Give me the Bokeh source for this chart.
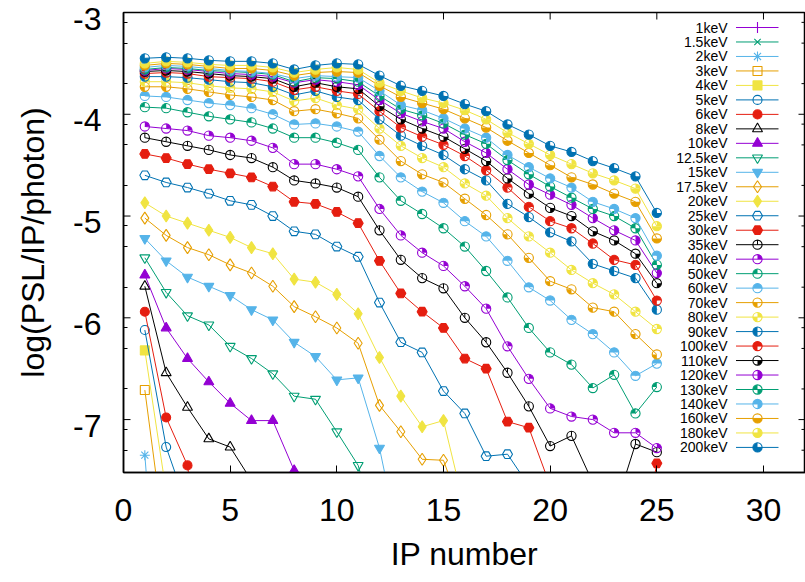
import math
from bokeh.plotting import figure
from bokeh.models import Range1d, FixedTicker, ColumnDataSource
from bokeh.core.properties import value
from bokeh.embed import file_html
from bokeh.resources import INLINE

FONT = "Liberation Sans"

# ---------------- data (log(PSL/IP/photon) per IP number) ----------------
ip_number = list(range(1, 26))

labels = ["1keV", "1.5keV", "2keV", "3keV", "4keV", "5keV", "6keV", "8keV",
          "10keV", "12.5keV", "15keV", "17.5keV", "20keV", "25keV", "30keV",
          "35keV", "40keV", "50keV", "60keV", "70keV", "80keV", "90keV",
          "100keV", "110keV", "120keV", "130keV", "140keV", "160keV",
          "180keV", "200keV"]

e1 = [-8.20, -8.90]
e1_5 = [-7.90, -8.60]
e2 = [-7.35, -10.0]
e3 = [-6.71, -8.30, -8.60]
e4 = [-6.32, -7.71, -8.10]
e5 = [-6.12, -7.27, -7.87, -8.20]
e6 = [-5.94, -6.98, -7.45, -9.00]
e8 = [-5.69, -6.54, -6.88, -7.19, -7.27, -7.60, -7.90]
e10 = [-5.58, -6.10, -6.40, -6.63, -6.84, -7.01, -7.01, -7.50, -8.00, -8.20]
e12_5 = [-5.41, -5.75, -5.98, -6.07, -6.28, -6.40, -6.55, -6.77, -6.80, -7.12,
         -7.45, -8.20, -8.40]
e15 = [-5.22, -5.44, -5.60, -5.69, -5.78, -5.92, -6.02, -6.24, -6.38, -6.61,
       -6.59, -7.28, -8.28, -8.40]
e17_5 = [-5.02, -5.19, -5.31, -5.38, -5.48, -5.56, -5.69, -5.89, -5.99, -6.10,
         -6.25, -6.86, -7.12, -7.39, -7.40, -7.98, -8.10]
e20 = [-4.87, -5.00, -5.07, -5.14, -5.21, -5.31, -5.37, -5.62, -5.65, -5.77,
       -5.96, -6.39, -6.77, -7.07, -7.01, -7.88, -8.00, -8.10]
e25 = [-4.60, -4.67, -4.72, -4.78, -4.85, -4.89, -5.00, -5.15, -5.18, -5.30,
       -5.40, -5.85, -6.24, -6.34, -6.72, -6.94, -7.36, -7.34, -7.65, -7.90,
       -8.00, -8.10, -8.20]
e30 = [-4.39, -4.43, -4.49, -4.54, -4.58, -4.62, -4.71, -4.86, -4.88, -4.96,
       -5.07, -5.44, -5.76, -5.94, -6.10, -6.40, -6.50, -7.02, -7.08, -7.65,
       -7.80, -7.90, -8.00, -8.60, -7.43]
e35 = [-4.23, -4.27, -4.31, -4.35, -4.40, -4.43, -4.52, -4.65, -4.68, -4.72,
       -4.81, -5.14, -5.43, -5.61, -5.71, -6.00, -6.24, -6.54, -6.87, -7.26,
       -7.16, -7.62, -7.90, -7.24, -7.32]
e40 = [-4.12, -4.14, -4.16, -4.21, -4.23, -4.26, -4.33, -4.49, -4.49, -4.54,
       -4.61, -4.93, -5.19, -5.36, -5.49, -5.69, -5.91, -6.28, -6.60, -6.89,
       -6.97, -7.00, -7.13, -7.13, -7.28]
e50 = [-3.93, -3.94, -3.98, -4.02, -4.05, -4.08, -4.14, -4.23, -4.23, -4.28,
       -4.35, -4.62, -4.85, -4.98, -5.12, -5.30, -5.54, -5.80, -6.10, -6.34,
       -6.46, -6.69, -6.56, -6.94, -6.68]
e60 = [-3.82, -3.83, -3.86, -3.89, -3.91, -3.94, -4.00, -4.10, -4.09, -4.12,
       -4.17, -4.41, -4.62, -4.76, -4.87, -5.05, -5.20, -5.44, -5.70, -5.83,
       -6.02, -6.16, -6.34, -6.57, -6.45]
e70 = [-3.73, -3.73, -3.75, -3.78, -3.81, -3.83, -3.86, -3.97, -3.95, -3.99,
       -4.04, -4.25, -4.46, -4.59, -4.67, -4.83, -4.99, -5.18, -5.41, -5.64,
       -5.72, -5.90, -5.94, -6.16, -6.36]
e80 = [-3.68, -3.68, -3.69, -3.72, -3.74, -3.75, -3.78, -3.87, -3.84, -3.91,
       -3.95, -4.14, -4.31, -4.43, -4.52, -4.68, -4.80, -5.02, -5.20, -5.36,
       -5.53, -5.66, -5.77, -5.94, -6.11]
e90 = [-3.63, -3.63, -3.64, -3.66, -3.68, -3.69, -3.73, -3.81, -3.77, -3.83,
       -3.86, -4.05, -4.21, -4.31, -4.40, -4.54, -4.65, -4.88, -5.01, -5.16,
       -5.25, -5.47, -5.54, -5.61, -5.92]
e100 = [-3.60, -3.59, -3.60, -3.63, -3.64, -3.65, -3.68, -3.76, -3.73, -3.77,
        -3.80, -3.97, -4.13, -4.22, -4.30, -4.41, -4.55, -4.72, -4.91, -5.05,
        -5.12, -5.27, -5.43, -5.48, -5.83]
e110 = [-3.58, -3.57, -3.58, -3.60, -3.62, -3.63, -3.65, -3.73, -3.69, -3.73,
        -3.75, -3.92, -4.05, -4.14, -4.22, -4.34, -4.46, -4.63, -4.78, -4.92,
        -5.00, -5.15, -5.24, -5.37, -5.66]
e120 = [-3.57, -3.55, -3.56, -3.58, -3.60, -3.61, -3.63, -3.69, -3.66, -3.68,
        -3.71, -3.86, -3.99, -4.07, -4.14, -4.27, -4.38, -4.54, -4.69, -4.79,
        -4.89, -5.02, -5.14, -5.24, -5.56]
e130 = [-3.56, -3.54, -3.55, -3.57, -3.58, -3.59, -3.61, -3.68, -3.64, -3.65,
        -3.68, -3.82, -3.95, -4.01, -4.09, -4.20, -4.29, -4.45, -4.59, -4.71,
        -4.82, -4.93, -5.00, -5.12, -5.48]
e140 = [-3.54, -3.52, -3.53, -3.55, -3.57, -3.58, -3.60, -3.65, -3.62, -3.63,
        -3.64, -3.77, -3.91, -3.96, -4.04, -4.14, -4.23, -4.40, -4.52, -4.63,
        -4.72, -4.86, -4.93, -5.02, -5.39]
e160 = [-3.52, -3.50, -3.51, -3.53, -3.55, -3.55, -3.57, -3.62, -3.59, -3.58,
        -3.59, -3.72, -3.83, -3.89, -3.95, -4.04, -4.13, -4.26, -4.38, -4.50,
        -4.62, -4.69, -4.78, -4.86, -5.22]
e180 = [-3.50, -3.48, -3.49, -3.51, -3.52, -3.52, -3.54, -3.59, -3.56, -3.54,
        -3.56, -3.69, -3.77, -3.84, -3.89, -3.96, -4.05, -4.18, -4.29, -4.40,
        -4.49, -4.58, -4.65, -4.73, -5.10]
e200 = [-3.45, -3.44, -3.45, -3.47, -3.48, -3.48, -3.50, -3.56, -3.52, -3.50,
        -3.51, -3.62, -3.72, -3.77, -3.82, -3.90, -3.97, -4.10, -4.20, -4.31,
        -4.37, -4.46, -4.53, -4.61, -4.97]

series = [e1, e1_5, e2, e3, e4, e5, e6, e8, e10, e12_5, e15, e17_5, e20, e25,
          e30, e35, e40, e50, e60, e70, e80, e90, e100, e110, e120, e130, e140,
          e160, e180, e200]

x_ticks = [0, 5, 10, 15, 20, 25, 30]
y_ticks = [-7, -6, -5, -4, -3]
y_minor = [n + math.log10(k) for n in range(-8, -3) for k in (2, 5, 8)]

# gnuplot default line colours
palette = ["#9400d3", "#009e73", "#56b4e9", "#e69f00", "#f0e442", "#0072b2",
           "#e51e10", "#000000"]

# ---------------- figure ----------------
X0, X1 = 0.0, 31.97
Y0, Y1 = -7.52, -3.0
W, H = 805, 582
BL, BR, BT = 123, 0, 12
FW, FH = W - BL - BR, 460
BB = H - BT - FH

p = figure(width=W, height=H,
           x_range=Range1d(X0, X1), y_range=Range1d(Y0, Y1),
           output_backend="svg", toolbar_location=None,
           min_border_left=BL, min_border_right=BR, min_border_top=BT,
           min_border_bottom=BB)
p.xgrid.visible = False
p.ygrid.visible = False
p.outline_line_color = "black"
p.outline_line_width = 1.5
p.background_fill_color = "white"
p.border_fill_color = "white"


def fx(px):
    return X0 + px * (X1 - X0) / FW


def fy(py):
    return Y1 - py * (Y1 - Y0) / FH


# y tick labels sit slightly below their ticks (as in the gnuplot output):
# the axis labels are placed at shifted positions, the tick marks are drawn
# at the true values below.
LABEL_DROP = 6  # px
y_label_pos = [t - LABEL_DROP * (Y1 - Y0) / FH for t in y_ticks]
p.xaxis.ticker = FixedTicker(ticks=x_ticks)
p.yaxis.ticker = FixedTicker(ticks=y_label_pos, minor_ticks=y_minor)
p.yaxis.major_label_overrides = {pos: str(t) for pos, t in zip(y_label_pos, y_ticks)}
p.xaxis.axis_label = "IP number"
p.yaxis.axis_label = "log(PSL/IP/photon)"

for ax in (p.xaxis[0], p.yaxis[0]):
    ax.major_tick_in = 7
    ax.major_tick_out = 0
    ax.minor_tick_in = 4
    ax.minor_tick_out = 0
    ax.axis_line_width = 1.5
    ax.major_tick_line_width = 1
    ax.minor_tick_line_width = 1
    ax.major_label_text_font = FONT
    ax.major_label_text_font_size = "32px"
    ax.major_label_text_color = "black"
    ax.axis_label_text_font = FONT
    ax.axis_label_text_font_size = "32px"
    ax.axis_label_text_font_style = "normal"
    ax.axis_label_text_color = "black"
p.yaxis.major_tick_in = 0
p.xaxis.major_label_standoff = 26
p.xaxis.axis_label_standoff = 12
p.yaxis.major_label_standoff = 22
p.yaxis.axis_label_standoff = 19

# major y tick marks (left) and mirrored ticks on top and right border
p.segment(x0=[X0] * len(y_ticks), x1=[fx(7)] * len(y_ticks),
          y0=y_ticks, y1=y_ticks, line_color="black", line_width=1)
top_t = [t for t in x_ticks if t > X0]
p.segment(x0=top_t, x1=top_t, y0=[Y1] * len(top_t),
          y1=[fy(7)] * len(top_t), line_color="black", line_width=1)
p.segment(x0=[X1] * len(y_ticks), x1=[fx(FW - 7)] * len(y_ticks),
          y0=y_ticks, y1=y_ticks, line_color="black", line_width=1)
ym = [t for t in y_minor if Y0 < t < Y1]
p.segment(x0=[X1] * len(ym), x1=[fx(FW - 4)] * len(ym),
          y0=ym, y1=ym, line_color="black", line_width=1)

# circle-with-quadrant point types (gnuplot C0..C14)
quadrants = [[], [(0, 90)], [(90, 180)], [(0, 180)], [(180, 270)],
             [(0, 90), (180, 270)], [(90, 270)], [(0, 270)], [(270, 360)],
             [(270, 450)], [(90, 180), (270, 360)], [(270, 540)],
             [(180, 360)], [(0, 90), (180, 360)], [(90, 360)]]

simple = {1: ("cross", False, 11), 2: ("x", False, 9), 3: ("asterisk", False, 10),
          4: ("square", False, 9), 5: ("square", True, 9),
          6: ("circle", False, 9), 7: ("circle", True, 9),
          8: ("triangle", False, 10), 9: ("triangle", True, 10),
          10: ("inverted_triangle", False, 10), 11: ("inverted_triangle", True, 10),
          12: ("diamond", False, 12), 13: ("diamond", True, 12),
          14: ("hex", False, 10), 15: ("hex", True, 10)}
R = 4.6


def draw_point(pt, src, c):
    if pt in simple:
        m, filled, s = simple[pt]
        p.scatter("x", "y", source=src, marker=m, size=s, line_color=c,
                  line_width=1.1, fill_color=c if filled else None)
        return
    q = quadrants[pt - 16]
    for a0, a1 in q:
        p.wedge("x", "y", source=src, radius=R, radius_units="screen",
                start_angle=a0, end_angle=a1, start_angle_units="deg",
                end_angle_units="deg", direction="anticlock",
                fill_color=c, line_color=None)
    if not q:
        p.ray("x", "y", source=src, length=R, length_units="screen",
              angle=90, angle_units="deg", line_color=c, line_width=1)
    p.scatter("x", "y", source=src, marker="circle", size=2 * R, line_color=c,
              line_width=1.1, fill_color=None)


for k, vals in enumerate(series):
    c = palette[k % 8]
    src = ColumnDataSource(dict(x=ip_number[:len(vals)], y=vals))
    p.line("x", "y", source=src, line_color=c, line_width=1)
    draw_point(k + 1, src, c)

# ---------------- key (label left, sample right, as in gnuplot) ----------------
KEY_TEXT_R, KEY_L0, KEY_L1, KEY_M = 604, 612.5, 655, 634
KEY_ROW0, KEY_DY = 15.0, 14.48
rows = [fy(KEY_ROW0 + KEY_DY * k) for k in range(len(labels))]
p.text(x=[fx(KEY_TEXT_R)] * len(labels), y=rows, text=labels,
       text_align="right", text_baseline="middle",
       text_font=value(FONT), text_font_size="14px", text_color="black")
for k, yy in enumerate(rows):
    c = palette[k % 8]
    p.segment(x0=[fx(KEY_L0)], y0=[yy], x1=[fx(KEY_L1)], y1=[yy],
              line_color=c, line_width=1)
    draw_point(k + 1, ColumnDataSource(dict(x=[fx(KEY_M)], y=[yy])), c)

open("out.html", "w").write(file_html(p, INLINE))
